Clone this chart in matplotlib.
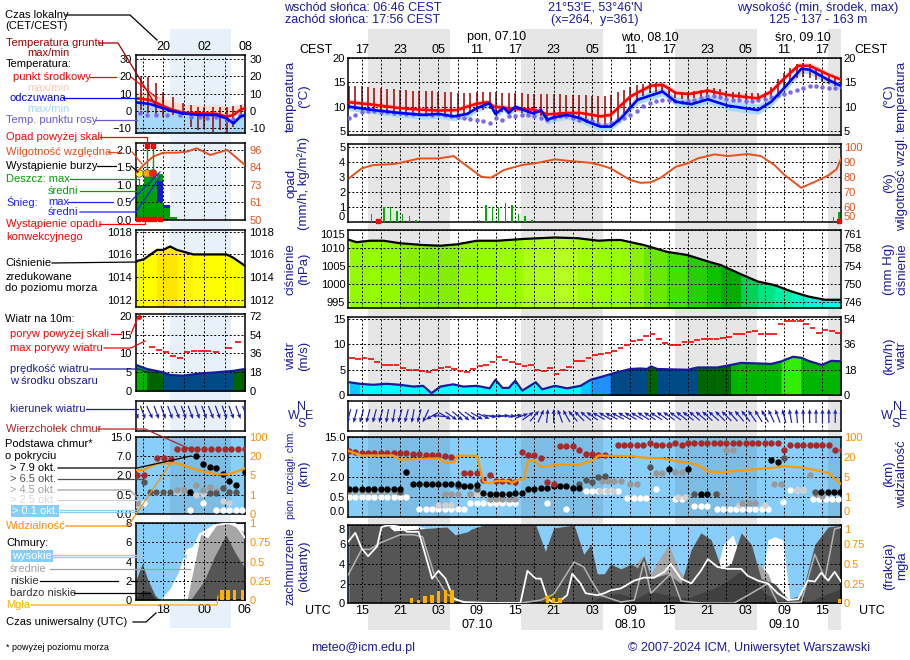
import numpy as np
import matplotlib
matplotlib.use('Agg')
import matplotlib.pyplot as plt
from matplotlib.lines import Line2D
from matplotlib.patches import Rectangle
from matplotlib.colors import LinearSegmentedColormap
from matplotlib.transforms import blended_transform_factory

plt.rcParams.update({
    'font.family': ['Liberation Sans', 'DejaVu Sans'],
    'font.size': 8,
})

# ---------------- data (time = hours UTC counted from 06.10 00:00) ----------------
sunset_utc = [15.93, 39.93, 63.93, 87.93]
sunrise_utc = [28.77, 52.77, 76.77, 100.77]
hours = np.arange(13, 91)

# temperature
t_mid = [13, 16.8, 21, 24, 27, 29.9, 31.5, 33, 34.8, 35.6, 39, 41.9, 44, 47.1, 49.2, 52.3,
         53.9, 57, 60.2, 62, 64.1, 66.2, 69.1, 72.2, 76.9, 79, 80.8, 83.2, 85, 87.9, 90]
temp_mid = [10.9, 10.4, 9.7, 9.4, 9.2, 9.3, 10.0, 10.6, 10.9, 10.0, 9.5, 9.4, 8.4, 8.7, 8.7, 8.0,
            8.3, 12.1, 14.3, 14.5, 12.8, 12.6, 13.3, 12.4, 11.7, 13.1, 15.5, 18.4, 18.4, 16.6, 15.5]
temp_hi = [11.6, 11.1, 10.4, 10.1, 9.9, 10.0, 10.7, 11.3, 11.5, 10.7, 10.2, 10.1, 9.1, 9.4, 9.4, 8.7,
           9.0, 12.8, 15.0, 15.2, 13.5, 13.3, 14.0, 13.1, 12.4, 13.8, 16.2, 19.1, 19.1, 17.3, 16.2]
temp_lo = [10.4, 9.9, 9.2, 8.9, 8.7, 8.8, 9.5, 10.1, 10.4, 9.5, 9.0, 8.9, 7.9, 8.2, 8.2, 7.5,
           7.8, 11.6, 13.8, 14.0, 12.3, 12.1, 12.8, 11.9, 11.2, 12.6, 15.0, 17.9, 17.9, 16.1, 15.0]
t_feel = [13, 16.8, 21, 24.6, 27, 29.4, 31.5, 33, 35, 35.9, 37.2, 38, 39, 40.3, 41.9, 43, 44, 45,
          47.1, 49.2, 50.3, 52.3, 53.9, 55.5, 58.1, 62, 64.1, 66.5, 69.1, 72.2, 76.9, 79, 80.8,
          83.7, 85, 87.9, 90]
feel = [10.0, 9.3, 8.7, 8.3, 8.5, 8.0, 8.5, 9.7, 10.7, 8.5, 9.8, 8.7, 10.0, 9.3, 8.6, 9.3, 7.3, 7.8,
        8.3, 7.6, 6.9, 5.9, 5.9, 7.6, 11.4, 13.1, 11.0, 10.5, 11.5, 10.2, 9.3, 11.0, 13.5,
        17.8, 17.6, 15.5, 14.2]
feel_hi = [10.5, 9.8, 9.2, 8.8, 9.0, 8.6, 9.1, 10.2, 11.1, 9.1, 10.3, 9.3, 10.5, 9.9, 9.2, 9.9, 8.0, 8.4,
           8.9, 8.3, 7.6, 6.7, 6.8, 8.6, 12.4, 14.0, 12.0, 11.6, 12.5, 11.3, 10.5, 12.1, 14.4,
           18.3, 18.1, 16.1, 14.8]
feel_lo = [9.2, 8.5, 7.8, 7.4, 7.6, 7.1, 7.6, 8.9, 9.9, 7.7, 9.0, 7.9, 9.2, 8.5, 7.8, 8.5, 6.4, 6.9,
           7.4, 6.7, 6.0, 5.0, 5.1, 6.8, 10.5, 12.2, 10.2, 9.7, 10.6, 9.3, 8.4, 10.1, 12.6,
           16.9, 16.7, 14.6, 13.3]
dew = [7.6, 8.3, 8.8, 9.2, 9.1, 8.9, 8.8, 8.7, 8.6, 8.5,
       8.5, 8.4, 8.5, 8.3, 8.4, 8.2, 8.0, 7.8, 7.6, 7.4,
       7.2, 7.1, 6.6, 7.6, 7.3, 8.1, 8.1, 8.2, 8.2, 8.0,
       7.7, 7.3, 7.7, 8.1, 8.0, 7.7, 7.3, 7.2, 7.0, 6.5,
       6.3, 6.6, 7.3, 7.6, 8.3, 9.2, 10.2, 10.7, 11.2, 11.4,
       11.3, 11.2, 11.0, 11.2, 11.4, 11.7, 12.1, 12.1, 11.9, 11.6,
       11.4, 11.3, 11.2, 11.2, 11.3, 11.6, 12.0, 12.3, 12.7, 13.0,
       13.4, 13.8, 14.2, 14.2, 14.0, 13.8, 13.8, 14.0]
ground_max = [14.3, 14.3, 14.2, 14.0, 13.9, 13.8, 13.6, 13.6, 13.5, 13.4,
              13.3, 13.3, 13.3, 13.2, 13.1, 13.0, 13.0, 12.9, 12.9, 12.9,
              13.0, 13.0, 13.1, 13.0, 12.9, 12.9, 12.8, 12.8, 12.7, 12.6,
              12.6, 12.6, 12.5, 12.5, 12.4, 12.4, 12.3, 12.3, 12.2, 12.1,
              12.2, 12.4, 13.0, 13.5, 14.0, 14.4, 14.6, 14.8, 14.8, 14.6,
              13.5, 13.2, 13.1, 13.1, 13.3, 13.5, 13.7, 13.8, 13.6, 13.3,
              13.1, 13.0, 12.9, 12.9, 12.8, 12.9, 14.0, 15.6, 17.0, 18.0,
              18.8, 19.0, 18.8, 18.0, 17.2, 16.5, 16.0, 15.6]
ground_min = [9.5, 9.3, 9.2, 9.0, 9.0, 8.9, 8.8, 8.7, 8.6, 8.6,
              8.5, 8.4, 8.3, 8.3, 8.2, 8.1, 8.0, 8.0, 8.2, 8.6,
              9.0, 9.4, 9.6, 9.0, 8.9, 8.8, 8.8, 8.7, 8.5, 8.3,
              8.0, 7.6, 7.6, 7.7, 7.6, 7.4, 7.2, 7.0, 6.6, 6.3,
              6.2, 6.6, 7.4, 8.6, 10.0, 11.2, 12.2, 12.8, 13.0, 12.8,
              12.2, 11.8, 11.6, 11.6, 11.8, 12.0, 12.1, 12.0, 11.8, 11.6,
              11.4, 11.3, 11.2, 11.1, 11.0, 11.2, 11.8, 12.8, 14.0, 15.2,
              15.8, 16.0, 15.8, 15.4, 15.0, 14.6, 14.3, 14.2]

# precipitation (mm/h) and relative humidity (%)
t_rain = [16.5, 18.5, 19.5, 20.5, 21.4, 22.5, 23.5, 33.4, 34.4, 35.4, 36.4, 37.5, 38.5, 39.5,
          40.5, 41.6, 42.5, 88.7, 89.6]
rain = [0.55, 1.0, 1.0, 0.7, 0.5, 0.4, 0.15, 0.1, 1.1, 1.0, 1.0, 1.25, 1.1, 0.5,
        0.4, 0.15, 0.05, 0.33, 0.67]
t_conv = [17.5, 89.6]
t_rh = [13.1, 15, 16.8, 20, 21, 24, 27, 29.4, 29.9, 31.6, 33.7, 35.2, 37.2, 40, 42.5, 45.2, 47.1,
        50.8, 52.3, 53.9, 57, 58.6, 60.2, 61.7, 64.1, 65.9, 67.5, 70.1, 72.2, 75.3, 77.4, 79.5,
        81.1, 83.7, 85.8, 87.9, 89.2, 90.1]
rh = [79.3, 85.6, 87.8, 88.5, 89.3, 92.2, 92.2, 93.8, 92.0, 86.7, 80.0, 79.4, 84.5, 87.8, 89.3, 91.6,
      90.7, 89.3, 87.8, 85.6, 77.8, 76.0, 76.4, 79.3, 86.7, 88.9, 92.2, 94.9, 93.8, 95.1, 93.8, 87.8,
      81.1, 72.7, 76.7, 80.9, 85.0, 93.8]

# sea-level pressure (hPa)
t_pres = [13.1, 14.2, 16.3, 18.4, 21, 24.6, 27.3, 29.9, 33, 36.2, 40.3, 45.2, 48.8, 52, 53.9,
          55.5, 57, 59.1, 62.7, 65.9, 69.1, 71.1, 74.3, 76.9, 79.5, 82.2, 84.8, 87.4, 90]
pres = [1012.2, 1011.6, 1012.0, 1012.0, 1011.3, 1010.8, 1010.6, 1011.0, 1012.0, 1012.0, 1012.5,
        1012.9, 1012.7, 1012.0, 1012.2, 1012.2, 1011.6, 1010.8, 1008.9, 1008.0, 1006.2, 1005.2,
        1002.6, 1000.6, 999.6, 997.8, 996.4, 995.5, 995.5]

# wind (m/s)
t_wind = [13.1, 14.7, 16.8, 18.9, 21, 23.1, 24.6, 25.9, 27.3, 29.3, 30.9, 33, 35, 35.9, 37, 38, 39,
          40.1, 42.2, 43.2, 45.2, 47.1, 49.2, 50.8, 52.3, 53.9, 54.7, 57, 58.6, 59.6, 60.2, 61.2,
          65.9, 67.5, 70.6, 72.7, 74.3, 79, 80.6, 82.4, 83.7, 84.8, 86.9, 88.4, 90]
wind = [2.5, 2.2, 2.0, 2.2, 2.0, 1.65, 1.8, 0.35, 1.65, 2.1, 1.65, 1.8, 1.3, 3.0, 1.4, 1.4, 2.8,
        0.85, 2.5, 1.1, 1.8, 1.3, 1.8, 3.0, 3.5, 4.1, 4.4, 5.1, 5.2, 5.1, 5.6, 5.1,
        4.95, 5.4, 5.4, 5.9, 6.3, 6.1, 6.6, 7.5, 7.3, 6.7, 5.9, 6.7, 6.6]
t_gust = np.arange(13, 90)
gust = [7.3, 7.1, 7.3, 7.0, 6.4, 5.9, 5.9, 5.8, 5.3, 4.95,
        4.95, 4.75, 4.6, 4.95, 5.3, 5.4, 5.15, 4.75, 4.6, 5.15,
        5.6, 5.9, 6.5, 7.4, 6.9, 6.5, 6.1, 5.6, 5.8, 4.95,
        4.8, 5.3, 4.1, 4.95, 5.4, 6.7, 6.7, 7.3, 7.9, 8.0,
        8.3, 8.7, 9.2, 9.8, 10.6, 10.8, 11.5, 11.9, 10.9, 10.2,
        9.9, 9.9, 10.4, 10.4, 10.7, 10.9, 10.9, 10.9, 11.1, 11.35,
        11.9, 12.0, 12.4, 12.5, 12.0, 12.0, 12.0, 13.9, 14.5, 14.6,
        14.5, 13.9, 13.1, 12.2, 12.7, 12.5, 12.2]
wind_dir = [15, 15, 15, 15, 15, 15, 10, 10, 15, 15, 10, 15,
            25, 60, 95, 300, 305, 310, 310, 305, 300, 295,
            280, 270, 265, 270, 260, 250, 235, 220, 205, 185,
            180, 160, 150, 140, 135, 130, 125, 120,
            120, 118, 118, 120, 120, 120, 122, 122, 122, 125, 125, 125,
            128, 128, 130, 130, 132, 132, 135, 135, 138, 140, 142,
            145, 148, 150, 155, 160, 165, 170, 175, 178, 180, 180, 180, 180, 180, 180]

# cloud base / top (km) by cover class, visibility (km)
t_top = [13, 14, 15, 16, 17, 18, 19, 20, 21, 22, 23, 24, 25, 26, 27, 28, 29, 31, 32, 33, 34, 35,
         36, 37, 38, 39, 40, 41, 42, 43, 44, 45, 46, 47, 48, 49, 50, 51, 52, 53, 55, 56, 57, 58,
         59, 60, 61, 62, 63, 64, 65, 66, 67, 68, 69, 70, 71, 72, 73, 74, 75, 76, 77, 78, 79, 80,
         81, 82, 83, 84, 85, 86, 87, 88, 89, 90]
top = [9.4, 9.0, 8.5, 8.5, 8.5, 8.5, 8.5, 8.5, 8.5, 8.5, 8.3, 8.3, 8.0, 8.0, 8.0, 7.5, 7.2, 2.9, 2.9,
       2.9, 1.8, 2.4, 1.7, 1.7, 1.7, 1.6, 9.0, 8.0, 8.0, 6.7, 1.6, 1.5, 11.4, 11.4, 11.4, 10.0, 8.3,
       8.3, 8.0, 7.7, 12.0, 12.0, 12.0, 12.0, 12.0, 12.5, 12.0, 12.0, 12.0, 12.5, 12.0, 12.5, 12.5,
       12.5, 12.5, 12.5, 12.5, 12.5, 12.5, 12.5, 12.5, 12.5, 12.5, 12.5, 12.5, 12.5, 10.0, 11.8,
       11.8, 11.8, 11.8, 11.8, 11.8, 11.8, 10.0, 10.0]
t_b79 = [13, 14, 15, 16, 17, 18, 19, 20, 21, 22, 23, 24, 25, 26, 27, 28, 29, 30, 31, 32, 33,
         34, 35, 36, 37, 38, 39, 40, 41, 42, 43, 44, 45, 46, 47, 48, 49, 63.1, 66, 68, 69, 79, 80,
         86.8, 87.8, 88.8, 89.8]
b79 = [1.1, 1.1, 1.1, 1.1, 1.1, 1.1, 1.1, 1.1, 1.1, 3.3, 1.45, 1.45, 1.45, 1.45, 1.45, 1.45, 1.45,
       1.45, 1.3, 1.3, 1.4, 0.8, 0.75, 0.7, 0.7, 0.75, 0.8, 0.8, 1.1, 1.1, 1.2, 1.2, 1.3, 1.3, 1.3,
       1.2, 1.2, 3.9, 4.0, 0.75, 0.75, 6.2, 5.8, 0.9, 0.9, 0.9, 0.9]
t_b65 = [21, 30, 33, 49, 50, 51, 52, 53, 60, 67, 70.4, 81, 85.8]
b65 = [0.85, 1.3, 1.1, 1.5, 1.75, 1.6, 2.0, 2.2, 4.5, 0.75, 0.75, 6.8, 0.9]
t_b45 = [13, 14, 15, 16, 17, 18, 19, 20, 28, 29, 30, 32, 35, 36, 37, 38, 39, 52.5, 53.5, 54.5,
         55.5, 57, 58, 61, 62, 64, 65, 67, 70.5, 72, 73, 74.5, 75.5, 76.5, 79.5, 80.5, 85, 86, 87]
b45 = [0.95, 0.95, 0.95, 0.95, 0.95, 0.95, 0.95, 0.95, 0.7, 0.7, 0.7, 0.7, 0.44, 0.44, 0.44, 0.44,
       0.44, 1.7, 1.7, 1.7, 1.7, 1.5, 1.5, 2.9, 2.9, 3.3, 3.3, 0.75, 0.75, 10.0, 10.0, 0.36, 0.36,
       0.36, 1.45, 1.45, 2.6, 0.75, 0.6]
t_b25 = [27, 28, 29, 33, 34, 52.3, 53.3, 54.3, 64.5, 65.5, 74, 78, 79.5, 83, 84]
b25 = [0.3, 0.3, 0.3, 0.7, 0.7, 0.95, 0.95, 0.95, 0.5, 0.5, 0.3, 0.3, 1.5, 1.0, 1.0]
t_b01 = [13, 14, 15, 16, 17, 18, 19, 20, 21, 22, 24, 25, 26, 27, 28, 29, 30, 31, 32, 33, 34, 35,
         36, 37, 38, 39, 44, 47, 50, 51, 52, 53, 54, 55, 56.5, 57.5, 58.5, 59.5, 61, 64, 65, 67,
         68, 69, 70.5, 71.5, 72.5, 73.5, 74.5, 75.5, 76.5, 77.5, 78.5, 80.8, 82, 83, 84, 85.5,
         86.5, 87.5, 88.5, 89.5]
b01 = [0.5, 0.5, 0.5, 0.5, 0.5, 0.5, 0.5, 0.5, 0.5, 0.5, 0.19, 0.19, 0.19, 0.19, 0.19, 0.19, 0.19,
       0.19, 0.36, 0.36, 0.36, 0.36, 0.36, 0.36, 0.36, 0.36, 0.36, 0.19, 0.95, 0.95, 0.95, 0.95,
       0.95, 0.95, 0.47, 0.47, 0.47, 0.47, 1.1, 0.45, 0.45, 0.28, 0.28, 0.28, 0.2, 0.2, 0.2, 0.2,
       0.2, 0.2, 0.2, 0.2, 0.2, 0.38, 1.0, 1.0, 1.0, 0.45, 0.45, 0.45, 0.45, 0.45]
t_vis = [13, 15, 20, 21, 27, 28, 29.4, 30, 33, 34, 35, 36, 38, 38.5, 39.5, 40.3, 41, 42, 43, 44,
         45, 49, 50, 51, 52, 54.7, 57, 59, 62, 64.1, 66.2, 67.5, 69.3, 71.4, 74.3, 76.9, 79.5,
         81.1, 84, 86.6, 88, 89.4, 90]
vis = [44, 26, 26, 18, 19, 15.8, 15.8, 25, 25, 4.1, 3.7, 4.2, 4.2, 3.8, 4.5, 4.5, 17, 17, 13, 13,
       14, 14, 16, 17, 26, 24, 24, 19.5, 19, 17, 15.6, 14, 9, 8.7, 10, 11, 12, 13, 12, 9.5, 7.9,
       4.1, 3.5]

# cloud cover (octants) and fog fraction
t_high = [13, 18, 20, 23.5, 25, 27, 50, 60, 62, 63.5, 65, 68, 70, 71.5, 73, 74.5, 77, 78.5, 79.5,
          80.8, 82, 90]
cc_high = [0, 7.5, 8, 8, 7.6, 3, 0, 0, 3, 5.0, 2, 0, 2, 6.0, 7.0, 4, 0, 6.5, 6.8, 6.5, 0, 0]
t_med = [13, 50, 52, 55, 57, 59.1, 60.2, 61.5, 63, 64.5, 66, 68, 70, 72, 75, 77, 78.5, 80, 82, 84,
         85.5, 86.5, 88, 90]
cc_med = [0, 0, 2.0, 3.0, 3.5, 4.9, 3.0, 4.5, 6.0, 3.5, 2.0, 1.5, 1.0, 1.0, 2.5, 4.0, 3.0, 0.5, 0.3,
          1.0, 4.5, 5.2, 6.0, 7.0]
t_low = [13, 19, 20, 24.1, 28.3, 29.6, 31.5, 32.2, 34.1, 42.2, 43.7, 45.0, 48.2, 49.7, 50.8, 51.8,
         52.9, 53.9, 55.5, 57.1, 58.1, 59.1, 60.2, 62.8, 64.9, 66.5, 68.0, 69.6, 71.2, 72.7, 74.3,
         75.9, 77.4, 79.5, 81.6, 83.7, 85.8, 87.9, 90]
cc_low = [8, 8, 7.4, 7.6, 7.8, 7.0, 7.3, 7.6, 8, 8, 5.3, 7.7, 8, 5.0, 6.0, 3.0, 3.0, 4.0, 3.5, 4.0,
          3.6, 4.8, 2.5, 3.0, 2.0, 5.5, 7.2, 6.5, 3.5, 4.0, 7.2, 6.0, 2.5, 2.0, 0.4, 0.8, 6.0, 7.8,
          8.0]
t_vlow = [13, 50, 52, 55, 58, 60, 63, 66, 70, 72, 74, 76, 78, 80, 85, 88, 90]
cc_vlow = [0, 0, 0.5, 1.0, 0.5, 1.2, 0.8, 0.5, 1.5, 2.2, 3.2, 2.8, 1.0, 0.3, 0.2, 1.0, 1.5]
t_wline = [12.9, 14.0, 15.0, 16.0, 17.4, 18.1, 19.4, 21.0, 22.1, 23.9, 24.7, 26.0, 27.0, 28.1,
           29.4, 31.0, 35.1, 39.8, 40.9, 42.2, 43.0, 44.0, 45.0, 45.6, 47.1, 47.9, 49.2, 50.0,
           51.8, 52.9, 53.9, 55.5, 57.6, 59.1, 60.7, 62.3, 63.3, 64.9, 66.5, 68.0, 69.1, 70.6,
           72.2, 74.3, 75.3, 76.9, 78.5, 80.0, 81.6, 83.2, 84.7, 85.8, 86.8, 87.9, 88.9, 90.1]
cc_wline = [6.3, 7.2, 5.6, 4.8, 5.8, 7.8, 8.0, 7.8, 7.3, 7.3, 5.5, 2.5, 3.3, 2.5, 0.4, 0.1, 0, 0, 3.3,
            2.5, 2.5, 0.5, 0, 0, 0.8, 3.0, 2.0, 1.0, 0.8, 1.0, 1.3, 1.5, 2.3, 2.6, 2.6, 3.2, 4.0,
            2.5, 2.0, 3.3, 4.5, 3.7, 3.5, 3.5, 2.8, 2.3, 2.0, 1.0, 0.3, 0.4, 2.3, 2.2, 3.1, 2.3,
            3.2, 2.0]
t_gline = [12.9, 15.0, 16.3, 18.0, 21.0, 23.0, 24.5, 26.3, 28.3, 29.5, 31.0, 40.0, 43.0, 45.0,
           48.2, 49.7, 50.8, 52.3, 55.5, 57.6, 59.1, 60.2, 63.3, 64.9, 68.0, 73.2, 75.9, 78.5,
           80.0, 83.7, 85.8, 87.4, 88.9, 90.1]
cc_gline = [2.9, 5.5, 5.5, 6.2, 7.0, 7.0, 6.8, 3.0, 0.9, 0.5, 0, 0, 0.3, 0.9, 4.2, 3.7, 2.4, 0.8, 0.1,
            0.3, 4.2, 1.0, 3.0, 0.2, 0, 0, 1.0, 2.0, 0, 0.1, 5.0, 2.5, 7.6, 7.8]
t_fog = [22.8, 23.9, 24.9, 26.0, 27.0, 28.1, 29.1, 44.0, 45.0, 46.0, 89.7]
fog = [0.064, 0.04, 0.09, 0.105, 0.15, 0.17, 0.17, 0.085, 0.06, 0.06, 0.05]

# ---------------- data: legend sample meteogram (left column) ----------------
m_night = (19.0, 28.0)
m_tt = [13.95, 16.0, 18.0, 19.0, 20.9, 23.4, 25.8, 27.3, 28.3, 29.3, 30.0]
m_tmid = [7.4, 6.4, 2.9, 1.2, -1.0, -1.3, -1.6, -3.3, -2.3, 0.6, 1.6]
m_tmid_hi = [11.5, 10.5, 7.5, 6.0, 4.0, 3.5, 3.5, 3.0, 3.0, 4.0, 5.0]
m_tmid_lo = [6.5, 5.5, 2.0, 0.5, -1.5, -2.0, -2.5, -4.0, -3.0, 0.0, 1.0]
m_feel = [5.0, 4.1, 1.6, 0.2, -1.4, -2.3, -2.3, -4.3, -7.2, -3.3, -2.3]
m_feel_hi = [6.5, 5.5, 3.0, 1.5, 0.0, -1.0, -1.0, -3.0, -5.0, -1.5, -0.5]
m_feel_lo = [-13, -13, -13, -13, -13, -13, -13, -13, -13, -13, -13]
m_tdew = [14.6, 15.6, 17.0, 18.5, 20.5, 22.0, 23.4, 24.4, 25.8, 27.3, 28.3, 29.3]
m_dew = [-1.4, -2.3, -2.3, -2.3, -2.3, -3.3, -3.7, -4.3, -3.7, -5.2, -4.8, -2.3]
m_tg = [14.8, 15.8, 17.0, 18.0, 19.5, 20.9, 22.1, 23.1, 24.0, 25.3, 26.3, 27.3, 28.3, 29.4]
m_gmax = [19.9, 19.9, 16.1, 11.2, 8.3, 4.5, 3.5, 2.5, 2.1, 2.5, 2.1, 2.5, 2.9, 3.5]
m_gmin = [0.6, -1.4, -2.3, -3.3, -2.3, -2.3, -9.1, -11.0, -10.1, -12.0, -11.0, -13.0, -9.1, -2.3]
m_rain_edges = [13.95, 15.1, 17.06, 18.0, 19.0, 20.0]
m_rain = [1.0, 1.22, 1.3, 0.43, 0.08]
m_snow_edges = [17.06, 18.0, 19.0]
m_snow_top = [1.1, 0.43]
m_snow_bot = [0.52, 0.33]
m_trh = [13.95, 15.1, 16.5, 18.0, 20.0, 21.5, 22.9, 24.9, 27.4, 30.0]
m_rh = [80.7, 86.1, 91.6, 94.2, 94.2, 94.9, 97.1, 92.7, 96.0, 86.1]
m_storm_t = [14.5, 15.6, 16.5]
m_storm_y = [1.33, 1.33, 1.33]
m_storm_c = ['#ffff00', '#ffa500', '#ff2000']
m_over_t = [15.6, 16.5]
m_conv_t = [14.3, 15.1, 15.9, 16.7, 17.5]
m_tp = [13.95, 15.1, 17.1, 18.0, 19.0, 20.0, 22.4, 27.3, 28.3, 30.0]
m_pres = [1015.4, 1015.56, 1016.4, 1016.4, 1016.7, 1016.4, 1016.0, 1016.0, 1015.7, 1015.0]
m_tw = [13.95, 15.6, 18.0, 19.0, 20.9, 23.4, 25.8, 28.3, 30.0]
m_wind = [6.9, 5.8, 4.9, 4.2, 4.0, 4.6, 4.9, 5.3, 5.8]
m_tgust = [16.3, 17.4, 18.4, 19.4, 20.4, 21.5, 22.5, 23.5, 24.5, 25.7, 27.6, 29.0]
m_gust = [11.7, 10.8, 10.4, 9.3, 8.8, 10.4, 10.5, 10.7, 10.7, 10.4, 11.5, 13.0]
m_gust_over = (14.4, 19.8)
m_tdir = np.arange(14, 31)
m_dir = [340, 340, 335, 340, 340, 340, 338, 340, 340, 342, 340, 338, 340, 340, 340, 340, 340]
m_ttop = [14.1, 15.1, 17.1, 18.1, 19.1, 20.0, 21.0, 22.0, 23.0, 24.0, 25.0, 26.0, 27.0, 28.0, 29.0, 30.0]
m_top = [2.0, 2.0, 6.4, 6.4, 6.2, 10, 10, 10, 10, 10, 10, 10, 10, 10, 10, 10]
m_tb79 = [21.9, 22.8, 23.9, 24.8, 25.8, 26.8, 27.7, 28.7, 30.0]
m_b79 = [0.74, 7.0, 5.0, 4.3, 4.0, 2.5, 1.6, 1.3, 3.0]
m_tb65 = [15.1, 16.0, 17.0, 18.0, 19.0, 24.8, 25.8, 26.8, 27.7, 28.7]
m_b65 = [1.5, 0.74, 0.74, 0.74, 0.74, 0.65, 0.65, 1.0, 0.74, 0.74]
m_tb45 = [14.1, 20.0, 21.0, 22.8, 23.9, 24.8, 25.8]
m_b45 = [0.3, 0.9, 0.9, 1.3, 0.9, 1.1, 0.8]
m_tb25 = [14.1, 20.0, 22.8, 23.9, 26.8, 27.7]
m_b25 = [0.25, 0.74, 0.5, 0.6, 0.35, 0.3]
m_tb01 = [15.1, 16.0, 17.0, 18.0, 19.0, 21.9, 23.9, 25.8, 26.8, 27.7, 28.7, 29.6]
m_b01 = [0.3, 0.74, 0.74, 0.74, 0.74, 0.1, 0.3, 0.1, 0.1, 0.1, 0.1, 0.1]
m_tvis = [13.95, 15.1, 17.1, 20.0, 23.0, 25.8, 27.7, 30.0]
m_vis = [9.2, 9.2, 14.4, 14.4, 9.2, 5.9, 5.9, 10.5]
m_thigh = [13.95, 17.5, 19.0, 20.2, 21.3, 22.3, 23.2, 24.5, 26.5, 30.0]
m_high = [0, 0, 1.2, 2.9, 5.3, 5.6, 7.0, 7.5, 8.0, 8.0]
m_tmed = [13.95, 21.5, 22.5, 23.5, 24.5, 26.0, 27.5, 29.0, 30.0]
m_med = [0, 0, 3.5, 6.9, 6.5, 8.0, 8.0, 7.5, 7.0]
m_tlow = [13.95, 14.9, 15.8, 16.8, 17.5, 22.0, 24.0, 25.5, 27.2, 28.5, 30.0]
m_low = [2.0, 3.8, 2.0, 0.5, 0, 0, 2.0, 4.5, 6.8, 5.0, 3.3]
m_tvlow = [13.95, 15.0, 16.0, 17.0, 30.0]
m_vlow = [0.3, 1.0, 0.9, 0.0, 0.0]
m_twl = [23.5, 25.5, 27.5, 28.5, 30.0]
m_wl = [6.8, 7.8, 8.0, 8.0, 6.5]
m_tfog = [26.6, 27.5, 28.5, 29.6]
m_fog = [0.125, 0.125, 0.125, 0.125]

# ---------------- layout helpers ----------------
W, H = 910, 660
X0, X1, T0, T1 = 348, 841, 12.86, 89.9
MX0, MX1, M0, M1 = 135.7, 245, 13.95, 30.0
NAVY = '#1c1c9c'
ORANGE = '#ff8c00'
RHC = '#e8501e'
SKY = '#87cefa'

CB_KM = [0, 0.5, 2, 7, 15]
VIS_KM = [0, 1, 5, 20, 100]
POS = [0, 1, 2, 3, 4]


def cb_fwd(v):
    return np.interp(v, CB_KM, POS)


def cb_inv(p):
    return np.interp(p, POS, CB_KM)


def vis_fwd(v):
    return np.interp(v, VIS_KM, POS)


def vis_inv(p):
    return np.interp(p, POS, VIS_KM)


P_LEV = [995, 998, 1001, 1003.5, 1006, 1008.5, 1011, 1012.2, 1013.2, 1014.8, 1016.0, 1017.0]
P_COL = ['#00ffee', '#00f5b0', '#00dd70', '#00a800', '#10c400', '#44e000', '#88f000',
         '#99ff00', '#c4ff30', '#eeff00', '#ffff00', '#ffd000']
pcmap = LinearSegmentedColormap.from_list(
    'pres', list(zip([(v - P_LEV[0]) / (P_LEV[-1] - P_LEV[0]) for v in P_LEV], P_COL)))


def p_color(v):
    return pcmap((v - P_LEV[0]) / (P_LEV[-1] - P_LEV[0]))


W_LEV = [2.3, 3.0, 3.8, 5.3, 5.9, 7.0]
W_COL = ['#00ffff', '#00c8ff', '#1e90ff', '#004a88', '#006400', '#00b400', '#33ee00']


def w_color(v):
    return W_COL[int(np.searchsorted(W_LEV, v))]


fig = plt.figure(figsize=(W / 100, H / 100), dpi=100)


def panel(x0, x1, y0, y1, tlim, ylim, yticks, xticks, fmt=None, scale=None, pad=2):
    ax = fig.add_axes([x0 / W, 1 - y1 / H, (x1 - x0) / W, (y1 - y0) / H])
    ax.set_facecolor('none')
    if scale is not None:
        ax.set_yscale('function', functions=scale)
    ax.set_xticks(xticks)
    ax.set_xticklabels([])
    ax.set_yticks(yticks)
    if fmt is not None:
        ax.set_yticklabels([fmt.format(v) for v in yticks])
    ax.set_xlim(tlim)
    ax.set_ylim(ylim)
    ax.tick_params(length=0, labelsize=8, pad=pad)
    ax.grid(True, color='k', ls=(0, (2, 2)), lw=0.7)
    ax.set_axisbelow(False)
    for s in ax.spines.values():
        s.set_linewidth(1.1)
    return ax


def twin(ax, ylim, ticks, labels, color='k', scale=None, pad=2):
    a2 = ax.twinx()
    if scale is not None:
        a2.set_yscale('function', functions=scale)
    a2.set_yticks(ticks)
    a2.set_yticklabels(labels, color=color)
    a2.set_ylim(ylim)
    a2.tick_params(length=0, labelsize=8, pad=pad)
    for s in a2.spines.values():
        s.set_visible(False)
    return a2


def edge_labels(ax, bottom=False, top=False):
    # keep the labels that sit on a panel edge apart from the neighbouring panel
    ticks = ax.yaxis.get_major_ticks()
    for lab in (ticks[0].label1, ticks[0].label2) if bottom else ():
        lab.set_va('bottom')
    for lab in (ticks[-1].label1, ticks[-1].label2) if top else ():
        lab.set_va('top')


def col_rect(ax, t0, t1, y0, y1, color):
    tr = blended_transform_factory(ax.transData, fig.transFigure)
    lo, hi = ax.get_xlim()
    t0, t1 = max(t0, lo), min(t1, hi)
    if t1 > t0:
        fig.add_artist(Rectangle((t0, 1 - y1 / H), t1 - t0, (y1 - y0) / H, transform=tr,
                                 facecolor=color, edgecolor='none', zorder=-5))


def ax_text(ax, t, y, s, **kw):
    tr = blended_transform_factory(ax.transData, fig.transFigure)
    ax.text(t, 1 - y / H, s, transform=tr, ha='center', va='center', clip_on=False, **kw)


def txt(x, y, s, **kw):
    kw.setdefault('va', 'center')
    fig.text(x / W, 1 - y / H, s, **kw)


def polyline(pts, color, lw=0.9):
    fig.add_artist(Line2D([p[0] / W for p in pts], [1 - p[1] / H for p in pts],
                          color=color, lw=lw, zorder=10))


def seg_fill(ax, t, v, base, colorf, z=1):
    for i in range(len(t) - 1):
        c = colorf((v[i] + v[i + 1]) / 2)
        ax.fill_between(t[i:i + 2], base, v[i:i + 2], color=c, lw=0.6, ec=c, zorder=z)


def arrows(ax, t, deg, yc, length, color):
    d = np.radians(deg)
    ax.quiver(t, np.full(len(t), yc), -np.sin(d), -np.cos(d), angles='uv', pivot='middle',
              scale_units='dots', scale=1 / length, units='dots', width=1.2, headwidth=3.6,
              headlength=4.2, headaxislength=3.6, color=color, zorder=3)


XT = np.arange(15, 90, 3)
MXT = [15, 18, 21, 24, 27]

# ---------------- main panels ----------------
ax_t = panel(X0, X1, 58, 135, (T0, T1), (4.17, 20), [5, 10, 15, 20], XT)
ax_r = panel(X0, X1, 144, 222, (T0, T1), (0, 5.18), [0, 1, 2, 3, 4, 5], XT)
ax_p = panel(X0, X1, 230, 308, (T0, T1), (993.2, 1015), [995, 1000, 1005, 1010, 1015], XT)
ax_w = panel(X0, X1, 317, 395, (T0, T1), (0, 15.3), [0, 5, 10, 15], XT)
ax_d = panel(X0, X1, 401, 431, (T0, T1), (0, 1), [], XT)
ax_c = panel(X0, X1, 437, 517, (T0, T1), (0, 15), CB_KM, XT, fmt='{:.1f}', scale=(cb_fwd, cb_inv))
ax_cc = panel(X0, X1, 525, 603, (T0, T1), (0, 8), [0, 2, 4, 6, 8], XT)

# night shading: grey columns from the date row down to the bottom labels
for a, b in zip(sunset_utc, sunrise_utc):
    col_rect(ax_t, a, b, 29, 630, '#e6e6e6')

# temperature
ax_t.fill_between(t_mid, temp_lo, temp_hi, color='#ffd6d2', lw=0, zorder=1)
ax_t.fill_between(t_feel, feel_lo, feel_hi, color='#a8dcff', lw=0, zorder=1.1)
ax_t.vlines(hours, ground_min, ground_max, color='#a00000', lw=1.1, zorder=2)
ax_t.plot(hours, dew, 'o', color='#7b68ee', ms=3.2, mec='none', zorder=3)
ax_t.plot(t_mid, temp_mid, color='#ff0000', lw=1.9, zorder=3.5)
ax_t.plot(t_feel, feel, color='#0000ff', lw=1.9, zorder=3.6)
twin(ax_t, (4.17, 20), [5, 10, 15, 20], ['5', '10', '15', '20'])

# precipitation + humidity
ax_r.bar(t_rain, rain, width=0.22, color='#00b000', zorder=3)
ax_r.plot(t_conv, [0.04] * len(t_conv), 's', color='red', ms=3, zorder=4, clip_on=False)
a_rh = twin(ax_r, (50, 50 + 10 * 5.18), [50, 60, 70, 80, 90, 100],
            ['50', '60', '70', '80', '90', '100'], RHC)
a_rh.plot(t_rh, rh, color=RHC, lw=1.4)
edge_labels(ax_r, bottom=True)
edge_labels(a_rh, bottom=True)

# pressure
seg_fill(ax_p, t_pres, pres, 990, p_color)
ax_p.plot(t_pres, pres, color='k', lw=1.6, zorder=3)
hpa_ticks = [995, 1000, 1005, 1010, 1015]
a_mm = twin(ax_p, (993.2, 1015), hpa_ticks, [str(round(v * 0.750062)) for v in hpa_ticks])
edge_labels(ax_p, top=True)
edge_labels(a_mm, top=True)

# wind
seg_fill(ax_w, t_wind, wind, 0, w_color)
ax_w.plot(t_wind, wind, color='#1a1a9a', lw=1.6, zorder=3)
ax_w.hlines(gust, t_gust, t_gust + 0.9, color='red', lw=1.2, zorder=3)
twin(ax_w, (0, 15.3), [0, 5, 10, 15], [str(round(v * 3.6)) for v in [0, 5, 10, 15]])

# wind direction
arrows(ax_d, hours, wind_dir, 0.5, 14, '#2020b0')

# cloud base / tops / visibility
ax_c.set_facecolor(SKY)
for a, b in zip(sunset_utc, sunrise_utc):
    ax_c.axvspan(a, b, color='k', alpha=0.08, lw=0, zorder=0.5)
dot = dict(ls='none', marker='o', ms=4.6, mec='none', zorder=4)
ax_c.plot(t_b01, b01, color='white', **dot)
ax_c.plot(t_b25, b25, color='#d0d0d0', **dot)
ax_c.plot(t_b45, b45, color='#999999', **dot)
ax_c.plot(t_b65, b65, color='#555555', **dot)
ax_c.plot(t_b79, b79, color='black', **dot)
ax_c.plot(t_top, top, color='#a52a2a', **dot)
a_vis = twin(ax_c, (0, 100), VIS_KM, ['0', '1', '5', '20', '100'], ORANGE, scale=(vis_fwd, vis_inv))
a_vis.plot(t_vis, vis, color='#ff9900', lw=1.6, zorder=5)
edge_labels(ax_c, bottom=True)
edge_labels(a_vis, bottom=True)

# cloud cover
ax_cc.set_facecolor(SKY)
ax_cc.fill_between(t_high, 0, cc_high, color='white', lw=0, zorder=1)
ax_cc.fill_between(t_med, 0, cc_med, color='#a6a6a6', lw=0, zorder=1.1)
ax_cc.fill_between(t_low, 0, cc_low, color='#555555', lw=0, zorder=1.2)
ax_cc.fill_between(t_vlow, 0, cc_vlow, color='#404040', lw=0, zorder=1.3)
ax_cc.plot(t_gline, cc_gline, color='#b4b4b4', lw=1.1, zorder=3)
ax_cc.plot(t_wline, cc_wline, color='white', lw=1.3, zorder=3.1)
a_fog = twin(ax_cc, (0, 1), [0, 0.25, 0.5, 0.75, 1], ['0', '0.25', '0.5', '0.75', '1'], ORANGE)
a_fog.bar(t_fog, fog, width=0.5, color='#ffb000', zorder=3)
edge_labels(ax_cc, top=True)
edge_labels(a_fog, top=True)

# time labels
for t in XT[::2]:
    ax_text(ax_t, t, 50, '%02d' % ((t + 2) % 24), fontsize=9)
    ax_text(ax_cc, t, 611, '%02d' % (t % 24), fontsize=9)
for t, s in [(33, '07.10'), (57, '08.10'), (81, '09.10')]:
    ax_text(ax_cc, t, 625, s, fontsize=9)
for t, s in [(36, 'pon, 07.10'), (60, 'wto, 08.10'), (84, 'śro, 09.10')]:
    ax_text(ax_t, t, 37, s, fontsize=9)
txt(316, 50, 'CEST', ha='center', fontsize=9)
txt(871, 50, 'CEST', ha='center', fontsize=9)
txt(318, 611, 'UTC', ha='center', fontsize=9)
txt(872, 611, 'UTC', ha='center', fontsize=9)

# side labels
side = [
    (96, 'temperatura', '(°C)', '(°C)', 'temperatura', 9.5),
    (183, 'opad', '(mm/h, kg/m²/h)', '(%)', 'wilgotność wzgl.', 9.5),
    (269, 'ciśnienie', '(hPa)', '(mm Hg)', 'ciśnienie', 9.5),
    (356, 'wiatr', '(m/s)', '(km/h)', 'wiatr', 9.5),
    (474, 'pion. rozciągł. chm.', '(km)', '(km)', 'widzialność', 7.5),
    (566, 'zachmurzenie', '(oktanty)', '(frakcja)', 'mgła', 9),
]
for yc, lo, li, ri, ro, fs in side:
    txt(291, yc, lo, rotation=90, ha='center', color=NAVY, fontsize=fs)
    txt(304, yc, li, rotation=90, ha='center', color=NAVY, fontsize=9.5)
    txt(889, yc, ri, rotation=90, ha='center', color=NAVY, fontsize=9.5)
    txt(902, yc, ro, rotation=90, ha='center', color=NAVY, fontsize=9.5)
for x, y, s in [(294, 416, 'W'), (302, 407, 'N'), (309, 416, 'E'), (302, 424, 'S'),
                (887, 416, 'W'), (897, 407, 'N'), (903, 416, 'E'), (896, 424, 'S')]:
    txt(x, y, s, ha='center', color=NAVY, fontsize=9)

# header / footer
txt(363, 8, 'wschód słońca: 06:46 CEST', ha='center', color=NAVY, fontsize=9)
txt(363, 20, 'zachód słońca: 17:56 CEST', ha='center', color=NAVY, fontsize=9)
txt(595, 8, "21°53'E, 53°46'N", ha='center', color=NAVY, fontsize=9)
txt(595, 20, '(x=264,  y=361)', ha='center', color=NAVY, fontsize=9)
txt(818, 8, 'wysokość (min, środek, max)', ha='center', color=NAVY, fontsize=9)
txt(818, 20, '125 - 137 - 163 m', ha='center', color=NAVY, fontsize=9)
txt(363, 648, 'meteo@icm.edu.pl', ha='center', color=NAVY, fontsize=9)
txt(749, 648, '© 2007-2024 ICM, Uniwersytet Warszawski', ha='center', color=NAVY, fontsize=9)

# ---------------- legend sample meteogram ----------------
mt = panel(MX0, MX1, 55, 133.3, (M0, M1), (-12.9, 32.4), [-10, 0, 10, 20, 30], MXT, pad=3)
mr = panel(MX0, MX1, 143.3, 220, (M0, M1), (0, 2.19), [0, 0.5, 1, 1.5, 2], MXT, fmt='{:.1f}', pad=3)
mp = panel(MX0, MX1, 230, 306.7, (M0, M1), (1011.4, 1018.15), [1012, 1014, 1016, 1018], MXT, pad=3)
mw = panel(MX0, MX1, 314.3, 390.7, (M0, M1), (0, 20.4), [0, 5, 10, 15, 20], MXT, pad=3)
md = panel(MX0, MX1, 401, 431, (M0, M1), (0, 1), [], MXT)
mc = panel(MX0, MX1, 436.7, 514.3, (M0, M1), (0, 15), CB_KM, MXT, fmt='{:.1f}',
           scale=(cb_fwd, cb_inv), pad=3)
mcc = panel(MX0, MX1, 523.3, 600, (M0, M1), (0, 8), [0, 2, 4, 6, 8], MXT, pad=3)

col_rect(mt, m_night[0], m_night[1], 29, 628, '#e8f0fa')

mt.fill_between(m_tt, m_tmid_lo, m_tmid_hi, color='#ffdcd0', lw=0, zorder=1)
mt.fill_between(m_tt, m_feel_lo, m_feel_hi, color='#a8d8f8', lw=0, zorder=1.1)
mt.vlines(m_tg, m_gmin, m_gmax, color='#a00000', lw=1.1, zorder=2)
mt.plot(m_tdew, m_dew, 'o', color='#7b68ee', ms=3.2, mec='none', zorder=3)
mt.plot(m_tt, m_tmid, color='red', lw=1.9, zorder=3.5)
mt.plot(m_tt, m_feel, color='blue', lw=1.9, zorder=3.6)
twin(mt, (-12.9, 32.4), [-10, 0, 10, 20, 30], ['-10', '0', '10', '20', '30'], pad=3)

mr.bar(m_rain_edges[:-1], m_rain, width=np.diff(m_rain_edges), align='edge', color='#00a000', zorder=2)
mr.bar(m_snow_edges[:-1], np.subtract(m_snow_top, m_snow_bot), bottom=m_snow_bot,
       width=np.diff(m_snow_edges), align='edge', color='#1a1ad0', zorder=2.1)
mr.plot(m_conv_t, [0.03] * len(m_conv_t), 's', color='red', ms=2.5, zorder=4, clip_on=False)
mr.vlines(m_over_t, 1.33, 2.1, color='#00a000', lw=1, zorder=3)
mr.plot(m_over_t, [2.12] * len(m_over_t), 's', color='red', ms=3, zorder=4, clip_on=False)
mr.scatter(m_storm_t, m_storm_y, s=30, c=m_storm_c, edgecolors='#555555', linewidths=0.6, zorder=5)
mrh = twin(mr, (50, 50 + 23 * 2.19), [50, 61.5, 73, 84.5, 96], ['50', '61', '73', '84', '96'], RHC, pad=3)
mrh.plot(m_trh, m_rh, color=RHC, lw=1.4)

seg_fill(mp, m_tp, m_pres, 1010, p_color)
mp.plot(m_tp, m_pres, color='k', lw=1.6, zorder=3)
twin(mp, (1011.4, 1018.15), [1012, 1014, 1016, 1018], ['1012', '1014', '1016', '1018'], pad=3)

seg_fill(mw, m_tw, m_wind, 0, w_color)
mw.plot(m_tw, m_wind, color='#1a1a9a', lw=1.6, zorder=3)
mw.hlines(m_gust, np.subtract(m_tgust, 0.45), np.add(m_tgust, 0.45), color='red', lw=1.2, zorder=3)
mw.plot([m_gust_over[0]], [m_gust_over[1]], 'o', color='red', ms=2.5, zorder=4)
twin(mw, (0, 20.4), [0, 5, 10, 15, 20], [str(round(v * 3.6)) for v in [0, 5, 10, 15, 20]], pad=3)

arrows(md, m_tdir, m_dir, 0.62, 14, '#2020b0')

mc.set_facecolor(SKY)
mc.axvspan(m_night[0], m_night[1], color='k', alpha=0.08, lw=0, zorder=0.5)
mc.plot(m_tb01, m_b01, color='white', **dot)
mc.plot(m_tb25, m_b25, color='#d0d0d0', **dot)
mc.plot(m_tb45, m_b45, color='#999999', **dot)
mc.plot(m_tb65, m_b65, color='#555555', **dot)
mc.plot(m_tb79, m_b79, color='black', **dot)
mc.plot(m_ttop, m_top, color='#a52a2a', **dot)
mvis = twin(mc, (0, 100), VIS_KM, ['0', '1', '5', '20', '100'], ORANGE, scale=(vis_fwd, vis_inv), pad=3)
mvis.plot(m_tvis, m_vis, color='#ff9900', lw=1.6, zorder=5)

mcc.set_facecolor(SKY)
mcc.fill_between(m_thigh, 0, m_high, color='white', lw=0, zorder=1)
mcc.fill_between(m_tmed, 0, m_med, color='#a6a6a6', lw=0, zorder=1.1)
mcc.fill_between(m_tlow, 0, m_low, color='#555555', lw=0, zorder=1.2)
mcc.fill_between(m_tvlow, 0, m_vlow, color='#333333', lw=0, zorder=1.3)
mcc.plot(m_twl, m_wl, color='white', lw=1.3, zorder=3)
mfog = twin(mcc, (0, 1), [0, 0.25, 0.5, 0.75, 1], ['0', '0.25', '0.5', '0.75', '1'], ORANGE, pad=3)
mfog.bar(m_tfog, m_fog, width=0.5, color='#ffb000', zorder=3)

for t in [18, 24, 30]:
    ax_text(mt, t, 47, '%02d' % ((t + 2) % 24), fontsize=9)
    ax_text(mcc, t, 610, '%02d' % (t % 24), fontsize=9)

# legend labels and leader lines
LFS = 8
box = dict(boxstyle='square,pad=0.1', fc=SKY, ec='none')
legend = [
    (5, 15, 'Czas lokalny', 'k'), (5, 26, '(CET/CEST)', 'k'),
    (6, 43, 'Temperatura gruntu', '#a00000'), (27, 53, 'max/min', '#a00000'),
    (6, 64, 'Temperatura:', 'k'), (13, 77, 'punkt środkowy', 'red'),
    (27, 88, 'max/min', '#ffc8b4'), (10, 98, 'odczuwana', 'blue'),
    (27, 109, 'max/min', '#a0d8ff'), (6, 120, 'Temp. punktu rosy', '#6a5acd'),
    (6, 137, 'Opad powyżej skali', 'red'), (6, 152, 'Wilgotność względna', RHC),
    (6, 166, 'Wystąpienie burzy', 'k'), (6, 179, 'Deszcz: max', '#00a000'),
    (48, 191, 'średni', '#00a000'), (6, 202, 'Śnieg:', '#2020ff'),
    (48, 202, 'max', '#2020ff'), (48, 212, 'średni', '#2020ff'),
    (6, 224, 'Wystąpienie opadu', 'red'), (6, 237, 'konwekcyjnego', 'red'),
    (5, 263, 'Ciśnienie', 'k'), (5, 277, 'zredukowane', 'k'), (5, 288, 'do poziomu morza', 'k'),
    (5, 319, 'Wiatr na 10m:', 'k'), (10, 334, 'poryw powyżej skali', 'red'),
    (10, 348, 'max porywy wiatru', 'red'), (10, 369, 'prędkość wiatru', NAVY),
    (10, 381, 'w środku obszaru', NAVY), (10, 409, 'kierunek wiatru', NAVY),
    (6, 429, 'Wierzchołek chmur', '#b22222'), (5, 444, 'Podstawa chmur*', 'k'),
    (5, 456, 'o pokryciu', 'k'), (10, 468, '> 7.9 okt.', 'k'),
    (10, 479, '> 6.5 okt.', '#505050'), (10, 490, '> 4.5 okt.', '#a0a0a0'),
    (10, 500, '> 2.5 okt.', '#d8d8d8'), (6, 526, 'Widzialność', ORANGE),
    (6, 543, 'Chmury:', 'k'), (10, 569, 'średnie', '#a0a0a0'),
    (10, 581, 'niskie', '#333333'), (10, 593, 'bardzo niskie', '#333333'),
    (6, 605, 'Mgła', '#ffb000'), (6, 622, 'Czas uniwersalny (UTC)', 'k'),
]
for x, y, s, c in legend:
    txt(x, y, s, color=c, fontsize=LFS)
txt(12, 511, '> 0.1 okt.', color='white', fontsize=LFS, bbox=box)
txt(12, 556, 'wysokie', color='white', fontsize=LFS, bbox=box)
txt(6, 647, '* powyżej poziomu morza', color='k', fontsize=6.5)

leaders = [
    ([(66, 15), (130, 15), (157, 40)], 'k'),
    ([(99, 43), (118, 43), (155, 104)], '#a00000'),
    ([(90, 77), (116, 77)], 'red'), ([(131, 77), (157, 98)], 'red'),
    ([(63, 98), (137, 98)], 'blue'),
    ([(95, 120), (137, 120)], '#6a5acd'),
    ([(100, 137), (147, 137), (147, 144)], 'red'),
    ([(108, 152), (121, 152)], RHC), ([(132, 152), (142, 164)], RHC),
    ([(97, 166), (116, 166)], 'k'), ([(131, 166), (138, 172)], 'k'),
    ([(70, 179), (139, 179), (139, 186)], '#00a000'),
    ([(80, 191), (152, 191)], '#00a000'),
    ([(68, 202), (113, 202)], '#2020ff'), ([(130, 202), (160, 172)], '#2020ff'),
    ([(80, 212), (136, 212), (160, 177)], '#2020ff'),
    ([(99, 224), (145, 224), (145, 220)], 'red'),
    ([(52, 263), (137, 262)], 'k'),
    ([(111, 334), (121, 334)], 'red'), ([(131, 334), (138, 317)], 'red'),
    ([(104, 348), (131, 348), (145, 341)], 'red'),
    ([(90, 369), (139, 369), (147, 372)], NAVY),
    ([(86, 409), (138, 409)], NAVY),
    ([(98, 429), (145, 429), (190, 449)], '#b22222'),
    ([(58, 468), (137, 468), (191, 456)], 'k'),
    ([(58, 479), (143, 479)], '#505050'),
    ([(58, 490), (130, 490), (137, 497)], '#a0a0a0'),
    ([(58, 500), (138, 500)], '#d0d0d0'),
    ([(60, 510), (138, 510)], SKY), ([(60, 512), (138, 512)], SKY),
    ([(66, 526), (128, 526), (170, 464)], ORANGE),
    ([(52, 555), (186, 555)], SKY), ([(52, 557), (186, 557)], SKY),
    ([(50, 569), (190, 569)], '#a0a0a0'),
    ([(40, 581), (118, 581)], 'k'), ([(131, 581), (136, 581)], 'k'),
    ([(74, 593), (150, 593)], 'k'),
    ([(31, 605), (217, 605), (218, 596)], '#ffb000'),
    ([(133, 622), (146, 622), (156, 613)], 'k'),
]
for pts, c in leaders:
    polyline(pts, c)

fig.savefig('out.png', dpi=100)
